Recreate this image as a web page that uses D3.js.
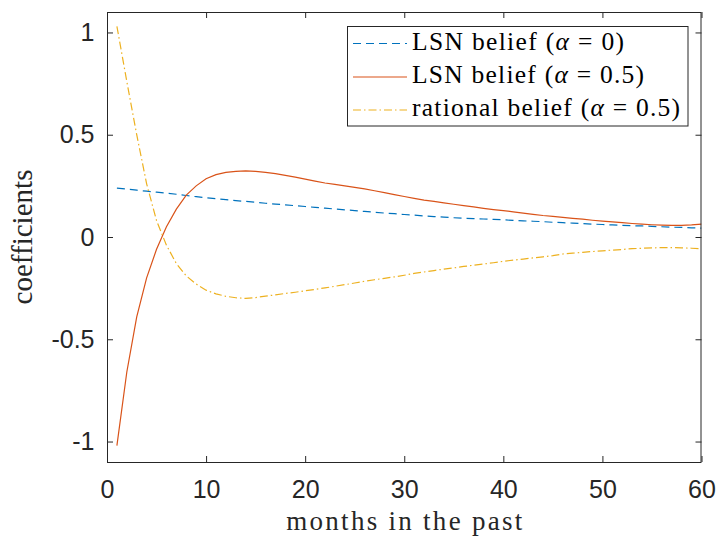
<!DOCTYPE html>
<html>
<head>
<meta charset="utf-8">
<script src="https://cdn.jsdelivr.net/npm/d3@7/dist/d3.min.js"></script>
<style>
  html, body { margin: 0; padding: 0; background: #fff; }
  svg { display: block; }
</style>
</head>
<body>
<svg id="chart" width="720" height="539"></svg>
<script>
// Lag coefficients by month (1..60)
const months = d3.range(1, 61);

const lsnAlpha0 = [
  0.239, 0.234, 0.229, 0.224, 0.219, 0.214, 0.209, 0.203, 0.197, 0.192,
  0.187, 0.183, 0.178, 0.174, 0.170, 0.165, 0.161, 0.157, 0.153, 0.149,
  0.145, 0.141, 0.137, 0.133, 0.129, 0.125, 0.121, 0.117, 0.114, 0.110,
  0.107, 0.103, 0.100, 0.097, 0.094, 0.092, 0.090, 0.088, 0.086, 0.084,
  0.081, 0.079, 0.077, 0.075, 0.072, 0.070, 0.068, 0.066, 0.063, 0.061,
  0.059, 0.057, 0.055, 0.054, 0.052, 0.050, 0.048, 0.047, 0.045, 0.043
];

const lsnAlpha05 = [
  -1.020, -0.660, -0.390, -0.200, -0.060, 0.050, 0.136, 0.205, 0.250, 0.285,
  0.305, 0.316, 0.321, 0.323, 0.321, 0.316, 0.310, 0.301, 0.293, 0.283,
  0.273, 0.264, 0.257, 0.250, 0.243, 0.235, 0.226, 0.217, 0.207, 0.198,
  0.189, 0.180, 0.174, 0.167, 0.160, 0.153, 0.147, 0.140, 0.134, 0.129,
  0.123, 0.117, 0.111, 0.105, 0.101, 0.096, 0.091, 0.087, 0.082, 0.078,
  0.074, 0.070, 0.066, 0.063, 0.060, 0.058, 0.057, 0.057, 0.059, 0.063
];

const rationalAlpha05 = [
  1.030, 0.760, 0.500, 0.260, 0.080, -0.040, -0.130, -0.190, -0.230, -0.260,
  -0.278, -0.290, -0.297, -0.300, -0.296, -0.289, -0.283, -0.276, -0.270, -0.263,
  -0.256, -0.249, -0.241, -0.233, -0.225, -0.216, -0.209, -0.202, -0.195, -0.187,
  -0.178, -0.171, -0.164, -0.157, -0.151, -0.144, -0.138, -0.132, -0.126, -0.119,
  -0.113, -0.108, -0.102, -0.097, -0.091, -0.083, -0.079, -0.075, -0.071, -0.068,
  -0.064, -0.061, -0.057, -0.055, -0.053, -0.052, -0.052, -0.053, -0.055, -0.057
];

const xTicks = [0, 10, 20, 30, 40, 50, 60];
const yTicks = [-1, -0.5, 0, 0.5, 1];
const xLabel = "months in the past";
const yLabel = "coefficients";

const series = [
  { name: "LSN belief (", alphaTail: " = 0)", values: lsnAlpha0, color: "#0072BD", dash: "8,5" },
  { name: "LSN belief (", alphaTail: " = 0.5)", values: lsnAlpha05, color: "#D95319", dash: null },
  { name: "rational belief (", alphaTail: " = 0.5)", values: rationalAlpha05, color: "#EDB120", dash: "8,3,1.5,3" }
];
const legendWidths = [212, 232, 268];

// Layout
const box = { left: 107, top: 12, right: 701.5, bottom: 462 };
const axisColor = "#262626";

const svg = d3.select("#chart");

const x = d3.scaleLinear().domain([0, 60]).range([box.left, box.right]);
const y = d3.scaleLinear().domain([-1.1, 1.1]).range([box.bottom, box.top]);

const tickFont = "'Liberation Sans', Arial, Helvetica, sans-serif";
const serifFont = "'Liberation Serif', 'Times New Roman', serif";

// Data lines (clipped to the axes box)
svg.append("defs").append("clipPath").attr("id", "plot-clip")
  .append("rect")
  .attr("x", box.left).attr("y", box.top)
  .attr("width", box.right - box.left).attr("height", box.bottom - box.top);

const line = d3.line()
  .x((d, i) => x(months[i]))
  .y(d => y(d));

const plot = svg.append("g").attr("clip-path", "url(#plot-clip)");
series.forEach(s => {
  plot.append("path")
    .attr("d", line(s.values))
    .attr("fill", "none")
    .attr("stroke", s.color)
    .attr("stroke-width", 1.2)
    .attr("stroke-dasharray", s.dash);
});

// Axes with inward ticks on all four sides
function styleAxis(g) {
  g.select(".domain").remove();
  g.selectAll(".tick line").attr("stroke", axisColor).attr("stroke-width", 1);
  g.selectAll(".tick text")
    .attr("fill", axisColor)
    .attr("font-family", tickFont)
    .attr("font-size", 25);
}

svg.append("g")
  .attr("transform", `translate(0,${box.bottom})`)
  .call(d3.axisBottom(x).tickValues(xTicks).tickFormat(d => String(d)).tickSize(-6).tickPadding(18))
  .call(styleAxis);

svg.append("g")
  .attr("transform", `translate(0,${box.top})`)
  .call(d3.axisTop(x).tickValues(xTicks).tickFormat("").tickSize(-6))
  .call(styleAxis);

svg.append("g")
  .attr("transform", `translate(${box.left},0)`)
  .call(d3.axisLeft(y).tickValues(yTicks).tickFormat(d => String(d)).tickSize(-6).tickPadding(12.5))
  .call(styleAxis);

svg.append("g")
  .attr("transform", `translate(${box.right},0)`)
  .call(d3.axisRight(y).tickValues(yTicks).tickFormat("").tickSize(-6))
  .call(styleAxis);

// Axes box
svg.append("rect")
  .attr("x", box.left + 0.5).attr("y", box.top + 0.5)
  .attr("width", box.right - box.left - 1).attr("height", box.bottom - box.top)
  .attr("fill", "none")
  .attr("stroke", axisColor)
  .attr("stroke-width", 1);

// Axis titles
svg.append("text")
  .attr("x", (box.left + box.right) / 2)
  .attr("y", 530)
  .attr("text-anchor", "middle")
  .attr("font-family", serifFont)
  .attr("font-size", 27)
  .attr("fill", axisColor)
  .attr("textLength", 236)
  .attr("lengthAdjust", "spacing")
  .text(xLabel);

svg.append("text")
  .attr("transform", `translate(32,${(box.top + box.bottom) / 2}) rotate(-90)`)
  .attr("text-anchor", "middle")
  .attr("font-family", serifFont)
  .attr("font-size", 29)
  .attr("fill", axisColor)
  .attr("textLength", 135)
  .attr("lengthAdjust", "spacing")
  .text(yLabel);

// Legend
const legend = { x: 347.5, y: 26.5, w: 340.5, h: 99.5 };
const lg = svg.append("g");
lg.append("rect")
  .attr("x", legend.x).attr("y", legend.y)
  .attr("width", legend.w).attr("height", legend.h)
  .attr("fill", "#fff")
  .attr("stroke", axisColor)
  .attr("stroke-width", 1);

const rowBaselines = [49.5, 83, 116];
series.forEach((s, i) => {
  const by = rowBaselines[i];
  lg.append("line")
    .attr("x1", 353).attr("x2", 407)
    .attr("y1", by - 6).attr("y2", by - 6)
    .attr("stroke", s.color)
    .attr("stroke-width", 1.2)
    .attr("stroke-dasharray", s.dash);
  const t = lg.append("text")
    .attr("x", 412).attr("y", by)
    .attr("font-family", serifFont)
    .attr("font-size", 25.5)
    .attr("fill", "#000")
    .attr("textLength", legendWidths[i])
    .attr("lengthAdjust", "spacing");
  t.append("tspan").text(s.name);
  t.append("tspan").attr("font-style", "italic").text("α");
  t.append("tspan").text(s.alphaTail);
});
</script>
</body>
</html>
